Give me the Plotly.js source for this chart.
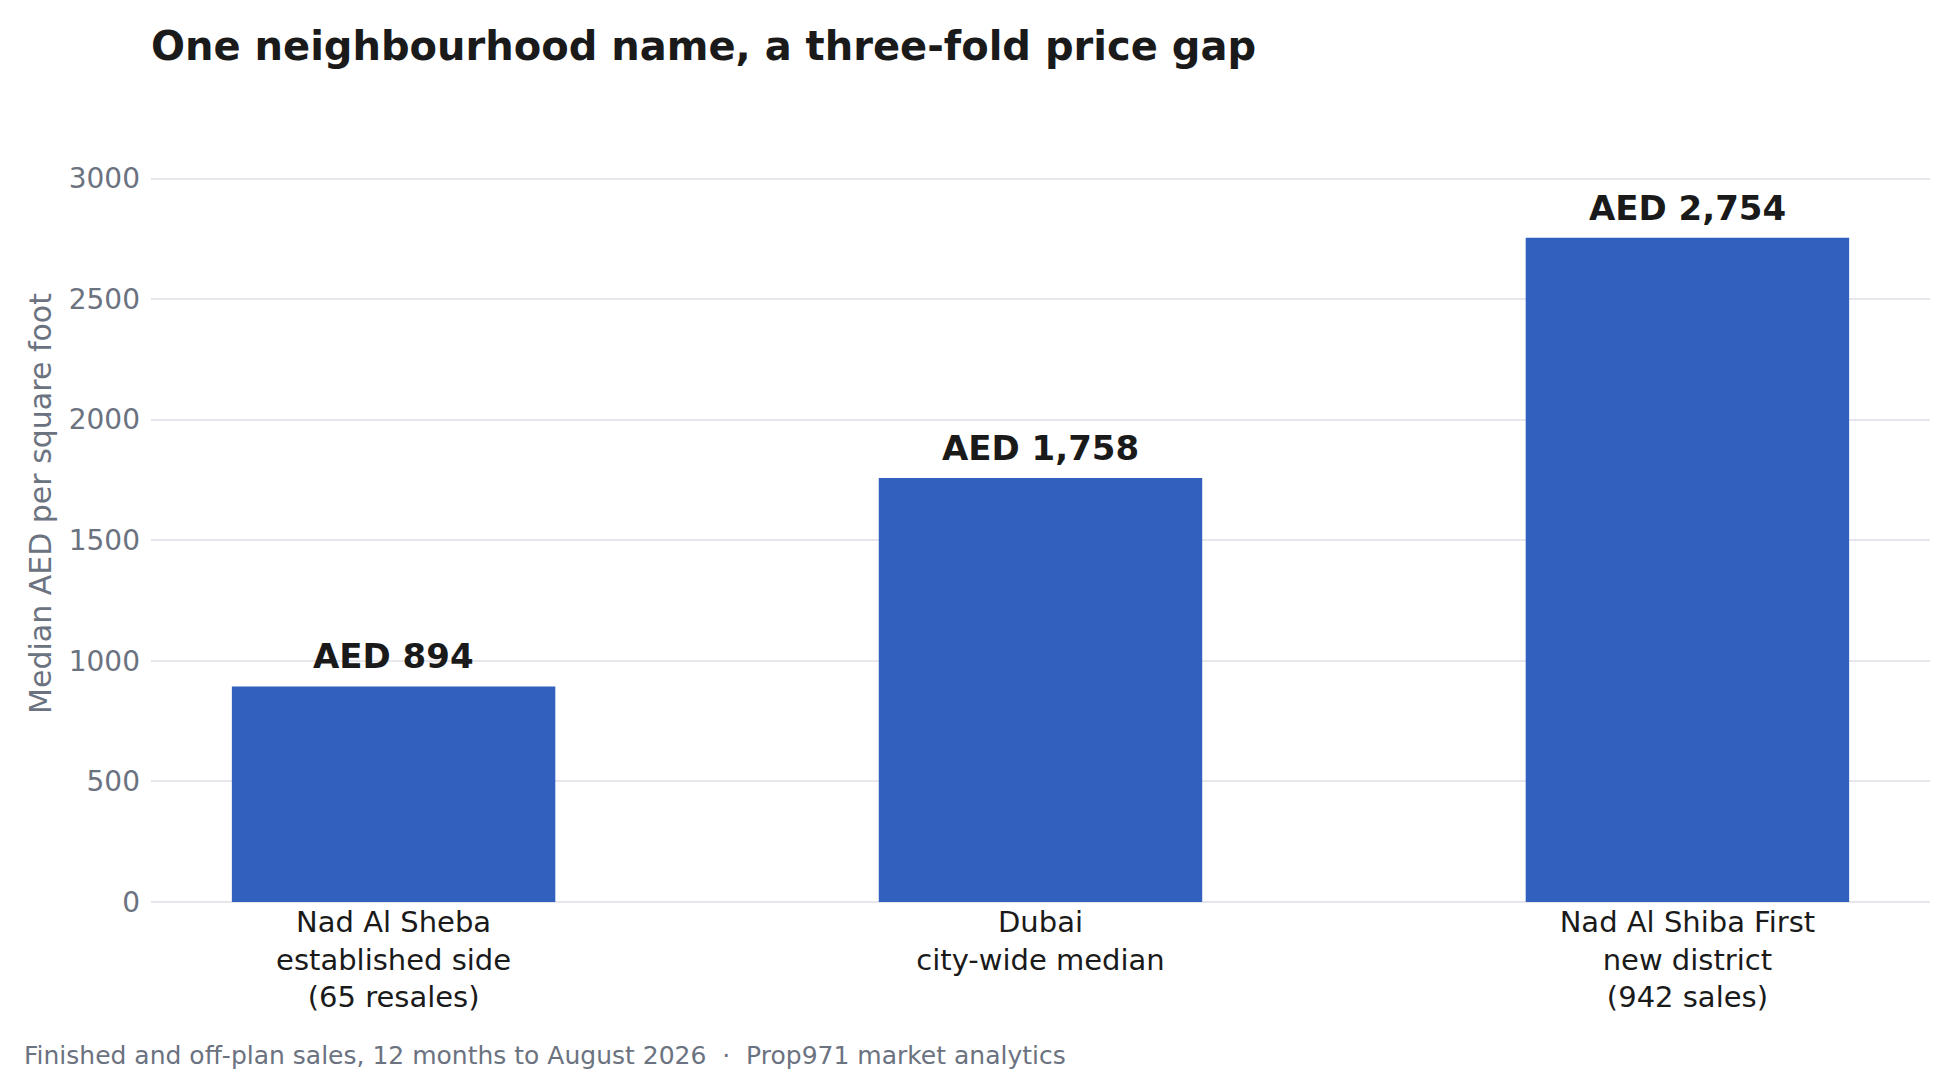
<!DOCTYPE html>
<html>
<head>
<meta charset="utf-8">
<script src="https://cdn.plot.ly/plotly-3.0.1.min.js"></script>
<style>
  html, body { margin: 0; padding: 0; background: #ffffff; }
  #chart { width: 1960px; height: 1080px; }
</style>
</head>
<body>
<div id="chart"></div>
<script>
// categories (multi-line tick labels) and median price per sq ft
var categories = [
  "Nad Al Sheba<br>established side<br>(65 resales)",
  "Dubai<br>city-wide median",
  "Nad Al Shiba First<br>new district<br>(942 sales)"
];
var medianPrice = [894, 1758, 2754];
var yTicks = [0, 500, 1000, 1500, 2000, 2500, 3000];

var barColor = "#3160be";
var inkColor = "#1a1a1a";
var mutedColor = "#6b7280";
var gridColor = "#e6e6ec";

var data = [{
  type: "bar",
  x: categories,
  y: medianPrice,
  width: 0.5,
  marker: { color: barColor },
  hoverinfo: "skip"
}];

// value labels above each bar
var annotations = categories.map(function (c, i) {
  return {
    x: c, y: medianPrice[i],
    xref: "x", yref: "y",
    text: "<b>AED " + medianPrice[i].toLocaleString("en-US") + "</b>",
    showarrow: false,
    yanchor: "bottom",
    yshift: 8,
    font: { size: 34, color: inkColor }
  };
});

annotations.push({
  xref: "paper", yref: "paper",
  x: -0.0725, y: -0.1925,
  xanchor: "left", yanchor: "middle",
  text: "Finished and off-plan sales, 12 months to August 2026  \u00b7  Prop971 market analytics",
  showarrow: false,
  font: { size: 25, color: mutedColor }
});

var layout = {
  width: 1960,
  height: 1080,
  margin: { l: 151, r: 30, t: 105, b: 177.5 },
  paper_bgcolor: "#ffffff",
  plot_bgcolor: "#ffffff",
  font: { family: "DejaVu Sans, sans-serif", color: inkColor },
  showlegend: false,
  title: {
    text: "<b>One neighbourhood name, a three-fold price gap</b>",
    font: { size: 40, color: inkColor },
    xref: "paper", x: 0, xanchor: "left",
    yref: "container", y: 1 - 46 / 1080, yanchor: "middle"
  },
  xaxis: {
    range: [-0.375, 2.375],
    showgrid: false,
    showline: false,
    zeroline: false,
    ticks: "",
    tickfont: { size: 29, color: inkColor },
    automargin: false
  },
  yaxis: {
    range: [0, 3304.8],
    tickvals: yTicks,
    ticktext: yTicks.map(String),
    showgrid: true,
    gridcolor: gridColor,
    gridwidth: 2,
    zeroline: true,
    zerolinecolor: gridColor,
    zerolinewidth: 2,
    showline: false,
    ticks: "",
    ticklabelstandoff: 10,
    tickfont: { size: 28, color: mutedColor },
    automargin: false,
    title: {
      text: "Median AED per square foot",
      font: { size: 30, color: mutedColor },
      standoff: 8
    }
  },
  annotations: annotations
};

Plotly.newPlot("chart", data, layout, { staticPlot: true, displayModeBar: false });
</script>
</body>
</html>
